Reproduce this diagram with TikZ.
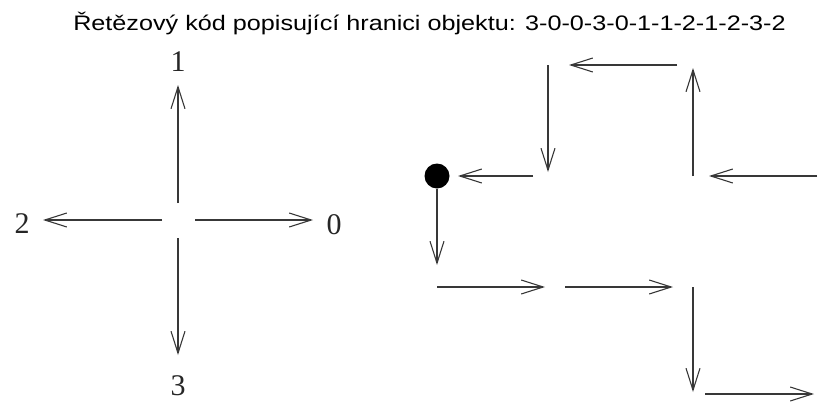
\documentclass[tikz,border=0pt]{standalone}
\usepackage{fontspec}
\setmainfont{Liberation Serif}
\newfontfamily\titlefont{Liberation Sans}
\usetikzlibrary{arrows.meta}
\tikzset{
  chain/.style={draw=black!78, line width=1.1pt, -{Straight Barb[length=22pt,width=14pt,line width=1.1pt]}},
  dirlabel/.style={font=\fontsize{30}{32}\selectfont, inner sep=0pt, text=black!85},
  titlelabel/.style={font=\titlefont\fontsize{21}{24}\selectfont, inner sep=0pt, anchor=base},
}
\begin{document}
\begin{tikzpicture}[x=1pt,y=-1pt]
\useasboundingbox (0,0) rectangle (828,402);
\fill[white] (0,0) rectangle (828,402);
% title
\node[titlelabel] (title) at (429.5,30) {\scalebox{1.2}[1]{Řetězový kód popisující hranici objektu: 3-0-0-3-0-1-1-2-1-2-3-2}};
% direction cross
\coordinate (c) at (178,220);
\coordinate (upS) at (178,203);   \coordinate (upE) at (178,85);
\coordinate (dnS) at (178,238);   \coordinate (dnE) at (178,355);
\coordinate (lfS) at (162,220);   \coordinate (lfE) at (43,220);
\coordinate (rtS) at (195,220);   \coordinate (rtE) at (313,220);
\draw[chain] (upS) -- (upE);
\draw[chain] (dnS) -- (dnE);
\draw[chain] (lfS) -- (lfE);
\draw[chain] (rtS) -- (rtE);
\node[dirlabel] (l1) at (178,62) {1};
\node[dirlabel] (l2) at (22,224) {2};
\node[dirlabel] (l0) at (334,225) {0};
\node[dirlabel] (l3) at (178,386) {3};
% chain code
\node[circle, fill=black, minimum size=25pt, inner sep=0pt] (start) at (437,176) {};
\coordinate (a1E) at (437,265);
\coordinate (a2S) at (437,287);  \coordinate (a2E) at (545,287);
\coordinate (a3S) at (565,287);  \coordinate (a3E) at (673,287);
\coordinate (a4S) at (693,287);  \coordinate (a4E) at (693,392);
\coordinate (a5S) at (705,394);  \coordinate (a5E) at (814,394);
\coordinate (a8S) at (817,176);  \coordinate (a8E) at (709,176);
\coordinate (a9S) at (693,176);  \coordinate (a9E) at (693,68);
\coordinate (a10S) at (677,65);  \coordinate (a10E) at (569,65);
\coordinate (a11S) at (548,65);  \coordinate (a11E) at (548,172);
\coordinate (a12S) at (533,176); \coordinate (a12E) at (458,176);
\draw[chain] (start.south) -- (a1E);
\draw[chain] (a2S) -- (a2E);
\draw[chain] (a3S) -- (a3E);
\draw[chain] (a4S) -- (a4E);
\draw[chain] (a5S) -- (a5E);
\draw[chain] (a8S) -- (a8E);
\draw[chain] (a9S) -- (a9E);
\draw[chain] (a10S) -- (a10E);
\draw[chain] (a11S) -- (a11E);
\draw[chain] (a12S) -- (a12E);
\end{tikzpicture}
\end{document}
